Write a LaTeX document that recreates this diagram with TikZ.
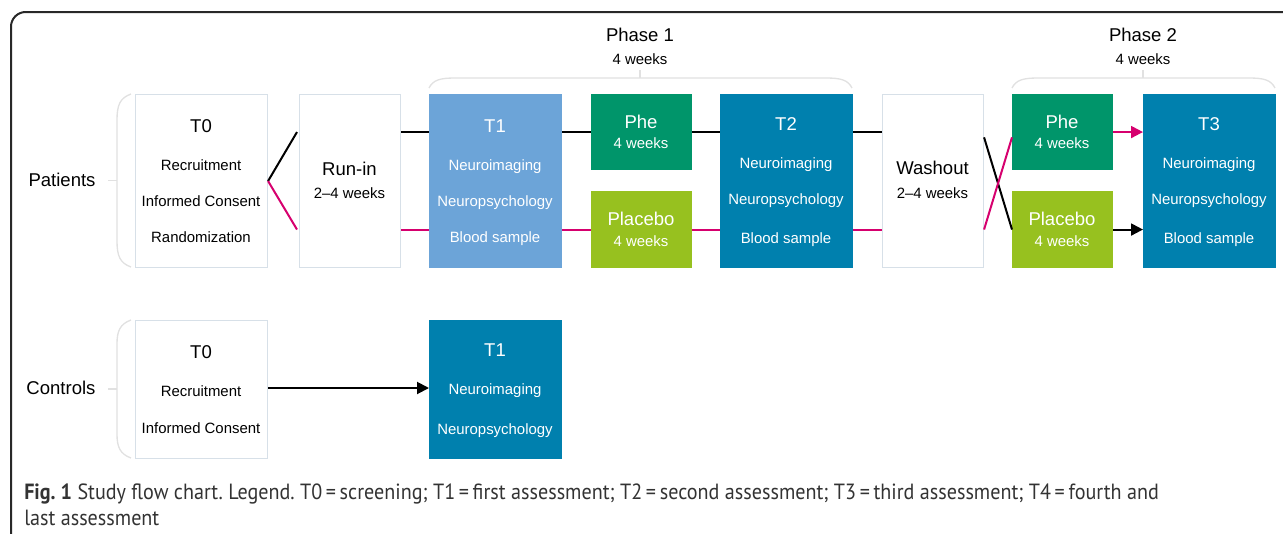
\documentclass[tikz,border=0pt]{standalone}
\usepackage{fontspec}
\setmainfont{Liberation Sans}
\newfontfamily\capfont[FakeStretch=0.915]{PT Sans}
\usetikzlibrary{arrows.meta}
\frenchspacing
\definecolor{tlight}{RGB}{108,164,216}
\definecolor{tblue}{RGB}{0,128,174}
\definecolor{phegreen}{RGB}{0,149,106}
\definecolor{plcgreen}{RGB}{151,193,31}
\definecolor{mag}{RGB}{214,0,110}
\definecolor{brk}{RGB}{225,225,225}
\definecolor{wborder}{RGB}{215,224,232}
\definecolor{frame}{RGB}{40,40,40}
\tikzset{
  box/.style={draw=wborder, line width=0.8pt, inner sep=0pt, anchor=north west, minimum width=99pt, minimum height=129.75pt},
  narrow/.style={minimum width=75.75pt},
  small/.style={minimum width=75pt, minimum height=56.25pt},
  ctrl/.style={minimum height=103.5pt},
  big/.style={font=\fontsize{13.9pt}{15pt}\selectfont, inner sep=0pt, text height=0.95em, text depth=0pt, anchor=center},
  sm/.style={font=\fontsize{11.2pt}{13pt}\selectfont, inner sep=0pt, text height=0.97em, text depth=0pt, anchor=center},
  wt/.style={text=white},
  blk/.style={line width=1.5pt, draw=black},
  mg/.style={line width=1.5pt, draw=mag},
  arr/.style={-{Triangle[length=9pt,width=9pt]}},
  bracket/.style={draw=brk, line width=1pt},
  captxt/.style={anchor=base west, inner sep=0pt, font=\capfont\fontsize{16.5pt}{20pt}\selectfont, text=black!80}
}
\begin{document}
\begin{tikzpicture}[x=0.75pt,y=-0.75pt]
\useasboundingbox (0,0) rectangle (1283,533);
% frame
\draw[frame, line width=1.5pt, rounded corners=11pt] (11,545) -- (11,12) -- (1295,12);

% brackets
\draw[bracket] (131,94) .. controls (120,98) and (117,105) .. (117,120) -- (117,241) .. controls (117,256) and (120,263) .. (131,267);
\draw[bracket] (117,180.5) -- (108,180.5);
\draw[bracket] (131,320) .. controls (120,324) and (117,331) .. (117,344) -- (117,434) .. controls (117,447) and (120,454) .. (131,458);
\draw[bracket] (117,389) -- (108,389);
\draw[bracket] (429,88) .. controls (433,80) and (440,78) .. (455,78) -- (826,78) .. controls (841,78) and (848,80) .. (852,88);
\draw[bracket] (640,78) -- (640,70);
\draw[bracket] (1012,88) .. controls (1016,80) and (1023,78) .. (1038,78) -- (1249,78) .. controls (1264,78) and (1271,80) .. (1275,88);
\draw[bracket] (1143,78) -- (1143,70);

% boxes
\node[box, fill=white] (t0) at (135,94) {};
\node[box, narrow, fill=white] (runin) at (299,94) {};
\node[box, fill=tlight, draw=tlight] (t1) at (429,94) {};
\node[box, small, fill=phegreen, draw=phegreen] (phe) at (591,94) {};
\node[box, small, minimum height=57pt, fill=plcgreen, draw=plcgreen] (plc) at (591,191) {};
\node[box, fill=tblue, draw=tblue] (t2) at (720,94) {};
\node[box, narrow, fill=white] (wash) at (882,94) {};
\node[box, small, fill=phegreen, draw=phegreen] (phe2) at (1012,94) {};
\node[box, small, minimum height=57pt, fill=plcgreen, draw=plcgreen] (plc2) at (1012,191) {};
\node[box, fill=tblue, draw=tblue] (t3) at (1143,94) {};
\node[box, ctrl, fill=white] (ct0) at (135,320) {};
\node[box, ctrl, fill=tblue, draw=tblue] (ct1) at (429,320) {};

% texts
\node[big] (pat) at (62,180) {Patients};
\node[big] (con) at (61,388) {Controls};
\node[big] (ph1) at (640,35) {Phase 1};
\node[sm] (ph1w) at (640,58) {4 weeks};
\node[big] (ph2) at (1143,35) {Phase 2};
\node[sm] (ph2w) at (1143,58) {4 weeks};

\node[big] (t0a) at (201,126) {T0};
\node[sm] (t0b) at (201,164) {Recruitment};
\node[sm] (t0c) at (201,200) {Informed Consent};
\node[sm] (t0d) at (201,236) {Randomization};

\node[big] (ria) at (349.5,169) {Run-in};
\node[sm] (rib) at (349.5,192) {2–4 weeks};

\node[big, wt] (t1a) at (495,126) {T1};
\node[sm, wt] (t1b) at (495,164) {Neuroimaging};
\node[sm, wt] (t1c) at (495,200) {Neuropsychology};
\node[sm, wt] (t1d) at (495,236) {Blood sample};

\node[big, wt] (phea) at (641,122) {Phe};
\node[sm, wt] (pheb) at (641,142) {4 weeks};
\node[big, wt] (plca) at (641,219) {Placebo};
\node[sm, wt] (plcb) at (641,240) {4 weeks};

\node[big, wt] (t2a) at (786,124) {T2};
\node[sm, wt] (t2b) at (786,162) {Neuroimaging};
\node[sm, wt] (t2c) at (786,198) {Neuropsychology};
\node[sm, wt] (t2d) at (786,237) {Blood sample};

\node[big] (wa) at (932.5,168) {Washout};
\node[sm] (wb) at (932.5,192) {2–4 weeks};

\node[big, wt] (phe2a) at (1062,122) {Phe};
\node[sm, wt] (phe2b) at (1062,142) {4 weeks};
\node[big, wt] (plc2a) at (1062,219) {Placebo};
\node[sm, wt] (plc2b) at (1062,240) {4 weeks};

\node[big, wt] (t3a) at (1209,124) {T3};
\node[sm, wt] (t3b) at (1209,162) {Neuroimaging};
\node[sm, wt] (t3c) at (1209,198) {Neuropsychology};
\node[sm, wt] (t3d) at (1209,237) {Blood sample};

\node[big] (ct0a) at (201,352) {T0};
\node[sm] (ct0b) at (201,390) {Recruitment};
\node[sm] (ct0c) at (201,427) {Informed Consent};

\node[big, wt] (ct1a) at (495,350) {T1};
\node[sm, wt] (ct1b) at (495,388) {Neuroimaging};
\node[sm, wt] (ct1c) at (495,428) {Neuropsychology};

% connectors
\draw[blk] (t0.east) -- ([xshift=-1.5pt]runin.west |- phe.west);
\draw[mg] (t0.east) -- ([xshift=-1.5pt]runin.west |- plc.west);
\draw[blk] (runin.east |- phe.west) -- (t1.west |- phe.west);
\draw[mg] (runin.east |- plc.west) -- (t1.west |- plc.west);
\draw[blk] (t1.east |- phe.west) -- (phe.west);
\draw[mg] (t1.east |- plc.west) -- (plc.west);
\draw[blk] (phe.east) -- (t2.west |- phe.east);
\draw[mg] (plc.east) -- (t2.west |- plc.east);
\draw[blk] (t2.east |- phe.east) -- (wash.west |- phe.east);
\draw[mg] (t2.east |- plc.east) -- (wash.west |- plc.east);
\draw[blk] ([yshift=-4pt]wash.east |- phe.west) -- (plc2.west);
\draw[mg] (wash.east |- plc.west) -- ([yshift=-4pt]phe2.west);
\draw[mg, arr] (phe2.east) -- (t3.west |- phe2.east);
\draw[blk, arr] (plc2.east) -- (t3.west |- plc2.east);
\draw[blk, arr] (ct0.east |- ct1b) -- (ct1.west |- ct1b);

% caption
\node[captxt] (cap1) at (24,499.5) {\textbf{Fig. 1} Study flow chart. Legend. T0\,=\,screening; T1\,=\,first assessment; T2\,=\,second assessment; T3\,=\,third assessment; T4\,=\,fourth and};
\node[captxt] (cap2) at (24,525.5) {last assessment};
\end{tikzpicture}
\end{document}
